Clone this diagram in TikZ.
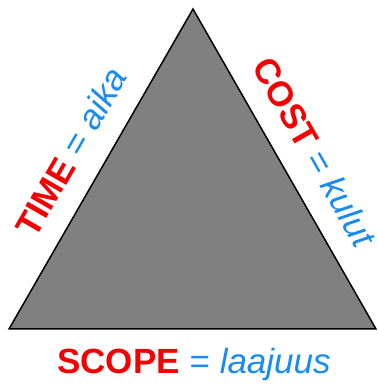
\documentclass[tikz,border=0pt]{standalone}
\usepackage{fontspec}
\setmainfont{Liberation Sans}
\usetikzlibrary{positioning}

\definecolor{triGray}{RGB}{128,128,128}
\definecolor{lblRed}{RGB}{245,0,0}
\definecolor{lblBlue}{RGB}{25,140,240}

\tikzset{
  lbl/.style={inner sep=0pt, font=\fontsize{35}{40}\selectfont}
}

\begin{document}
\begin{tikzpicture}[x=1pt, y=1pt]
  \useasboundingbox (0,0) rectangle (377,385);
  \coordinate (top) at (193,376);
  \coordinate (bl) at (9,56);
  \coordinate (br) at (376,56);
  % the triangle, with the two slanted labels
  \draw[line width=1.5pt, fill=triGray] (bl)
    -- node[lbl, sloped, above=21pt] (time) {{\bfseries\color{lblRed}TIME} {\color{lblBlue}= \itshape aika}} (top)
    -- node[lbl, sloped, above=21pt] (cost) {{\bfseries\color{lblRed}COST} {\color{lblBlue}= \itshape kulut}} (br)
    -- cycle;
  \node[lbl, anchor=base] (scope) at (194,12) {{\bfseries\color{lblRed}SCOPE} {\color{lblBlue}= \itshape laajuus}};
\end{tikzpicture}
\end{document}
